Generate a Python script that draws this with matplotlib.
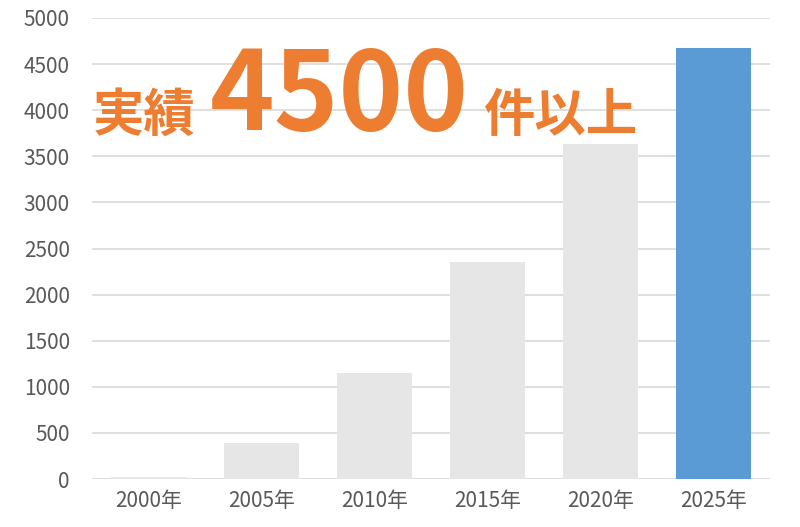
import matplotlib
matplotlib.use("Agg")
import matplotlib.pyplot as plt

categories = ["2000年", "2005年", "2010年", "2015年", "2020年", "2025年"]
values = [25, 394, 1153, 2354, 3633, 4680]
yticks = [0, 500, 1000, 1500, 2000, 2500, 3000, 3500, 4000, 4500, 5000]
bar_colors = ["#E7E6E6"] * 5 + ["#5B9BD5"]

plt.rcParams['font.family'] = ['Noto Sans CJK JP', 'DejaVu Sans']

W, H = 800, 527
fig = plt.figure(figsize=(W / 100, H / 100), dpi=100)
ax = fig.add_axes([92 / W, 1 - 479 / H, (770 - 92) / W, (479 - 18) / H])

x = range(len(categories))
ax.bar(x, values, width=0.66, color=bar_colors, zorder=3)
ax.set_xlim(-0.5, len(categories) - 0.5)
ax.set_ylim(0, 5000)
ax.set_yticks(yticks)
ax.set_xticks(list(x))
ax.set_xticklabels(categories)
ax.grid(axis='y', color='#D9D9D9', linewidth=1.2, zorder=0)
ax.set_axisbelow(True)
for s in ax.spines.values():
    s.set_visible(False)
ax.tick_params(axis='both', length=0, labelsize=15, colors='#595959')
ax.tick_params(axis='y', pad=16)
ax.tick_params(axis='x', pad=8)

orange = '#ED7D31'
def px(xp, yp):
    return xp / W, 1 - yp / H

fig.text(*px(93, 131), "実績", fontsize=37, fontweight='bold', color=orange, va='baseline', ha='left')
fig.text(*px(210, 130), "4500", fontsize=79, fontweight='bold', color=orange, va='baseline', ha='left')
fig.text(*px(483, 131), "件以上", fontsize=37, fontweight='bold', color=orange, va='baseline', ha='left')

fig.savefig("out.png", dpi=100, facecolor='white')
